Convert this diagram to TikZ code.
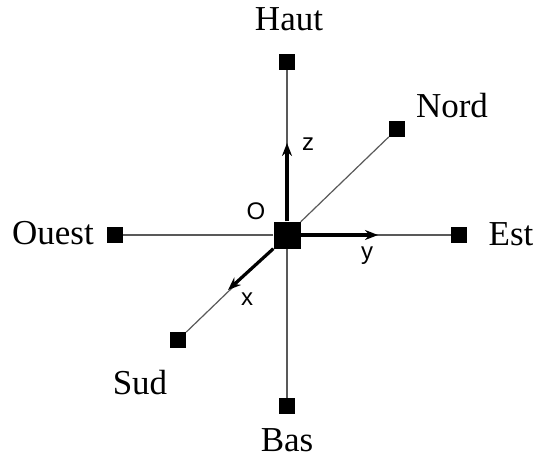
\documentclass[tikz,border=0pt]{standalone}
\usepackage{fontspec}
\setmainfont{Liberation Serif}
\setsansfont{Liberation Sans}
\usetikzlibrary{arrows.meta,positioning}

\begin{document}
\begin{tikzpicture}[
    x=1pt, y=-1pt,
    mark box/.style={rectangle, fill=black, inner sep=0pt, minimum size=16pt},
    origin box/.style={rectangle, fill=black, inner sep=0pt, minimum size=27pt},
    dirlabel/.style={font=\fontsize{35}{38}\selectfont, inner sep=0pt},
    axlabel/.style={font=\sffamily\fontsize{24}{26}\selectfont, inner sep=0pt},
    guide/.style={draw=black!65, line width=1.2pt},
    axis/.style={-{Stealth[length=13pt, width=10pt]}, line width=3.2pt}
]
    \useasboundingbox (0,0) rectangle (534,461);

    % the six reference points and the origin
    \node [origin box] (O) at (287,235) {};
    \node [mark box] (haut)  at (287,62)  {};
    \node [mark box] (bas)   at (287,406) {};
    \node [mark box] (ouest) at (115,235) {};
    \node [mark box] (est)   at (459,235) {};
    \node [mark box] (nord)  at (397,129) {};
    \node [mark box] (sud)   at (178,340) {};

    \node [dirlabel] (lhaut)  at (289,19)  {Haut};
    \node [dirlabel] (lbas)   at (287,440) {Bas};
    \node [dirlabel] (louest) at (53,233)  {Ouest};
    \node [dirlabel] (lest)   at (511,234) {Est};
    \node [dirlabel] (lnord)  at (452,106) {Nord};
    \node [dirlabel] (lsud)   at (140,383) {Sud};

    \foreach \p in {haut,bas,ouest,est,nord,sud}
        \draw [guide] (O) -- (\p);

    % axes
    \coordinate (zend) at (287,143);
    \coordinate (yend) at (378,235);
    \coordinate (xend) at (228,290);
    \draw [axis] (O.north) -- (zend);
    \draw [axis] (O.east) -- (yend);
    \draw [axis] (O.south west) -- (xend);

    \node [axlabel] (lo) at (256,211) {O};
    \node [axlabel] (lz) at (308,144) {z};
    \node [axlabel] (ly) at (367,256) {y};
    \node [axlabel] (lx) at (247,299) {x};
\end{tikzpicture}
\end{document}
